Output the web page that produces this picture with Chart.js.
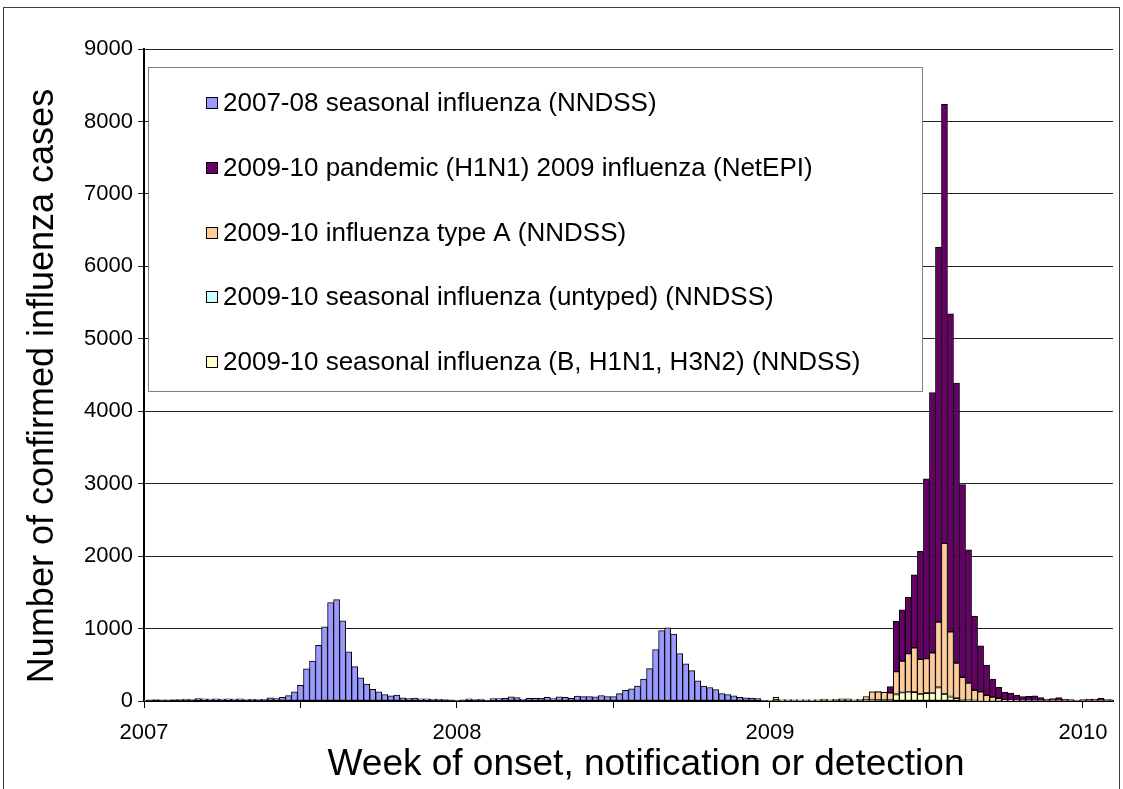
<!DOCTYPE html>
<html>
<head>
<meta charset="utf-8">
<script src="https://cdn.jsdelivr.net/npm/chart.js@4.4.1/dist/chart.umd.min.js"></script>
<style>
  html, body { margin: 0; padding: 0; background: #fff; }
  #wrap { position: relative; width: 1123px; height: 789px; overflow: hidden; }
  #frame { position: absolute; left: 3px; top: 7px; width: 1115px; height: 800px; border: 1px solid #404040; }
  #chart { position: absolute; left: 0; top: 0; }
</style>
</head>
<body>
<div id="wrap">
  <div id="frame"></div>
  <canvas id="chart" width="1123" height="789"></canvas>
</div>
<script>
// Weeks from the first week of 2007 to the start of 2010
const weekCount = 162;
const weekLabels = [];
for (let i = 0; i < weekCount; i++) {
  const d = new Date(Date.UTC(2007, 0, 1 + i * 7));
  weekLabels.push(d.toISOString().slice(0, 10));
}

// Axis ticks (week index -> label)
const yearTickWeeks = [0, 52, 104, 156];
const yearTicks = ["2007", "2008", "2009", "2010"];
const halfYearWeeks = [26, 78, 130];

// 2007-08 seasonal influenza (NNDSS), weeks 0..103
const seasonal0708 = [
  10, 15, 20, 15, 15, 20, 20, 25, 20, 35, 30, 25, 30, 25, 30, 25, 30, 20, 25, 20,
  25, 45, 35, 50, 75, 125, 215, 445, 550, 770, 1025, 1360, 1400, 1105, 680, 475,
  320, 235, 160, 125, 90, 70, 80, 45, 35, 40,
  30, 30, 25, 25, 20, 15, 10, 15, 30, 20, 25,
  14, 33, 33, 37, 56, 47, 23, 37, 37, 42, 51, 33, 56, 51, 37, 68, 60, 60, 56, 76, 60, 62,
  102, 149, 167, 205, 302, 446, 711, 972, 1009, 925, 656, 512, 419, 279, 205, 186,
  158, 102, 88, 70, 50,
  45, 40, 35, 10,
];

// 2009-10 series, weeks 104..161
const start0910 = 104;
const pandemic0910 = [
  0, 0, 0, 0, 0, 0, 0, 0, 0, 0, 0, 0, 0, 0, 0, 0,
  0, 3, 5, 5, 86, 694, 708, 777, 1008, 1490, 2482, 3593, 5177, 6061, 4391, 3865,
  2658, 1839, 1023, 637, 418, 247, 153,
  106, 97, 71, 55, 60, 65, 44, 26, 31, 45, 21, 17, 12, 17, 21, 26, 35, 17, 18,
];
const typeA0910 = [
  0, 35, 10, 10, 10, 5, 10, 5, 10, 10, 10, 10, 15, 15, 10, 10,
  45, 110, 105, 98, 92, 310, 432, 523, 610, 475, 473, 550, 900, 2075, 893, 484,
  308, 235, 140, 119, 74, 51, 34,
  15, 10, 8, 5, 5, 5, 3, 2, 2, 2, 2, 2, 2, 2, 2, 2, 2, 2, 2,
];
const untyped0910 = [
  0, 0, 0, 0, 0, 0, 0, 0, 0, 0, 0, 0, 0, 0, 0, 0,
  3, 3, 5, 5, 5, 5, 5, 5, 5, 5, 5, 5, 5, 5, 4, 4, 3, 2, 2, 1, 1, 1, 0,
  0, 0, 0, 0, 0, 0, 0, 0, 0, 0, 0, 0, 0, 0, 0, 0, 0, 0, 0,
];
const seasonal0910 = [
  5, 15, 10, 10, 10, 10, 10, 10, 10, 15, 10, 15, 15, 15, 10, 15,
  12, 12, 15, 15, 15, 90, 115, 125, 120, 95, 107, 110, 185, 95, 58, 36, 17, 10, 6, 5, 4, 3, 2,
  2, 2, 1, 1, 1, 1, 0, 0, 0, 0, 0, 0, 0, 0, 0, 0, 0, 0, 0,
];

const xTitle = "Week of onset, notification or detection";
const yTitle = "Number of confirmed influenza cases";

function fullSeries(values, offset) {
  const out = new Array(weekCount).fill(null);
  values.forEach((v, i) => {
    out[offset + i] = v;
  });
  return out;
}

const font = '"Liberation Sans", Arial, sans-serif';

// Legend box drawn inside the plot area
const legendBox = {
  id: "legendBox",
  afterDatasetsDraw(chart) {
    const ctx = chart.ctx;
    ctx.save();
    ctx.fillStyle = "#fff";
    ctx.fillRect(148, 67, 774, 324);
    ctx.strokeStyle = "#808080";
    ctx.lineWidth = 1;
    ctx.strokeRect(148.5, 67.5, 774, 324);
    ctx.font = "26px " + font;
    ctx.textBaseline = "middle";
    const items = chart.data.datasets.slice().reverse();
    items.forEach((ds, i) => {
      const y = Math.round(103 + i * 64.75);
      ctx.fillStyle = ds.backgroundColor;
      ctx.fillRect(206, y - 6, 12, 12);
      ctx.strokeStyle = "#000";
      ctx.strokeRect(206.5, y - 5.5, 11, 11);
      ctx.fillStyle = "#000";
      ctx.fillText(ds.label, 223, y + 1);
    });
    ctx.restore();
  },
};

// Axis titles, placed like the original
const axisTitles = {
  id: "axisTitles",
  afterDraw(chart) {
    const ctx = chart.ctx;
    ctx.save();
    ctx.fillStyle = "#000";
    ctx.textAlign = "center";
    ctx.textBaseline = "middle";
    ctx.font = "37px " + font;
    ctx.fillText(xTitle, 646, 765);
    ctx.translate(43, 386);
    ctx.rotate(-Math.PI / 2);
    ctx.font = "36px " + font;
    ctx.fillText(yTitle, 0, 0);
    ctx.restore();
  },
};

const barStyle = {
  borderColor: "#000",
  borderWidth: 1,
  borderSkipped: false,
  barPercentage: 1,
  categoryPercentage: 1,
  clip: 0,
};

new Chart(document.getElementById("chart"), {
  type: "bar",
  data: {
    labels: weekLabels,
    datasets: [
      Object.assign({ label: "2009-10 seasonal influenza (B, H1N1, H3N2) (NNDSS)",
        data: fullSeries(seasonal0910, start0910), backgroundColor: "#FFFFCC" }, barStyle),
      Object.assign({ label: "2009-10 seasonal influenza (untyped) (NNDSS)",
        data: fullSeries(untyped0910, start0910), backgroundColor: "#CCFFFF" }, barStyle),
      Object.assign({ label: "2009-10 influenza type A (NNDSS)",
        data: fullSeries(typeA0910, start0910), backgroundColor: "#FFCC99" }, barStyle),
      Object.assign({ label: "2009-10 pandemic (H1N1) 2009 influenza (NetEPI)",
        data: fullSeries(pandemic0910, start0910), backgroundColor: "#660066" }, barStyle),
      Object.assign({ label: "2007-08 seasonal influenza (NNDSS)",
        data: fullSeries(seasonal0708, 0), backgroundColor: "#9999FF" }, barStyle),
    ],
  },
  options: {
    responsive: false,
    animation: false,
    devicePixelRatio: 1,
    layout: { padding: { top: 49, right: 10, left: 0, bottom: 0 } },
    plugins: { legend: { display: false }, tooltip: { enabled: false } },
    scales: {
      x: {
        stacked: true,
        offset: false,
        grid: { offset: false, drawOnChartArea: false, tickLength: 7, color: "#000" },
        border: { color: "#000", width: 2 },
        ticks: {
          autoSkip: false,
          maxRotation: 0,
          padding: 12,
          color: "#000",
          font: { family: font, size: 22 },
          callback: function (v) {
            const i = yearTickWeeks.indexOf(v);
            return i >= 0 ? yearTicks[i] : "";
          },
        },
        afterBuildTicks: function (scale) {
          scale.ticks = scale.ticks.filter(
            (t) => yearTickWeeks.includes(t.value) || halfYearWeeks.includes(t.value)
          );
        },
        afterFit: function (scale) {
          scale.height = 88;
        },
      },
      y: {
        stacked: true,
        min: 0,
        max: 9000,
        grid: { color: "#222", lineWidth: 1, tickLength: 6 },
        border: { color: "#000", width: 2 },
        ticks: {
          stepSize: 1000,
          padding: 5,
          color: "#000",
          font: { family: font, size: 22 },
          callback: (v) => String(v),
        },
        afterFit: function (scale) {
          scale.width = 144;
        },
      },
    },
  },
  plugins: [legendBox, axisTitles],
});
</script>
</body>
</html>
